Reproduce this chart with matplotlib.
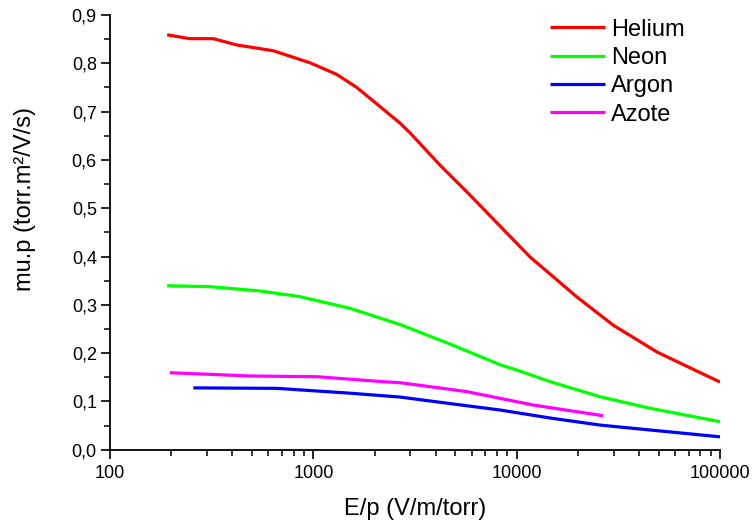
import numpy as np
import matplotlib
matplotlib.use('Agg')
import matplotlib.pyplot as plt
from matplotlib.ticker import FuncFormatter, MultipleLocator, LogLocator, NullFormatter

plt.rcParams['font.family'] = ['Liberation Sans', 'DejaVu Sans']

# values (E/p in V/m/torr, mu.p in torr.m2/V/s)
helium_x = [191, 247, 322, 420, 635, 964, 1303, 1635, 2050, 2670, 2990, 4200,
            5900, 8280, 11640, 19800, 29800, 49100, 100000]
helium_y = [0.859, 0.851, 0.851, 0.838, 0.826, 0.801, 0.777, 0.750, 0.716, 0.676,
            0.656, 0.589, 0.527, 0.463, 0.399, 0.316, 0.258, 0.202, 0.140]

neon_x = [191, 310, 547, 861, 1515, 2670, 4700, 8280, 10000, 14600, 25700, 45300, 100000]
neon_y = [0.3395, 0.3375, 0.3286, 0.3168, 0.2927, 0.2592, 0.2188, 0.176, 0.165,
          0.141, 0.1097, 0.0857, 0.058]

argon_x = [257, 662, 1515, 2670, 4700, 8280, 14600, 25700, 45300, 100000]
argon_y = [0.128, 0.127, 0.117, 0.109, 0.0955, 0.0822, 0.0656, 0.051, 0.0408, 0.0267]

azote_x = [197, 489, 1043, 2200, 2670, 4700, 5700, 12050, 26600]
azote_y = [0.1594, 0.1526, 0.1511, 0.1408, 0.1387, 0.1250, 0.1201, 0.0925, 0.0704]

W, H = 752, 525
fig = plt.figure(figsize=(W / 100, H / 100), dpi=100)
ax = fig.add_axes([110 / W, 1 - 449.7 / H, (720 - 110) / W, (449.7 - 15) / H])

lw = 2.3
style = dict(lw=lw, solid_joinstyle='round', solid_capstyle='butt')
ax.plot(helium_x, helium_y, color='#ff0000', label='Helium', **style)
ax.plot(neon_x, neon_y, color='#00ff00', label='Neon', **style)
ax.plot(argon_x, argon_y, color='#0000ff', label='Argon', **style)
ax.plot(azote_x, azote_y, color='#ff00ff', label='Azote', **style)

ax.set_xscale('log')
ax.set_xlim(100, 100000)
ax.set_ylim(0, 0.9)

ax.spines['top'].set_visible(False)
ax.spines['right'].set_visible(False)
for s in ['left', 'bottom']:
    ax.spines[s].set_linewidth(1.3)

ax.xaxis.set_major_locator(LogLocator(base=10))
ax.xaxis.set_minor_locator(LogLocator(base=10, subs=np.arange(2, 10)))
ax.xaxis.set_minor_formatter(NullFormatter())
ax.xaxis.set_major_formatter(FuncFormatter(lambda v, p: '%d' % round(v)))

ax.yaxis.set_major_locator(MultipleLocator(0.1))
ax.yaxis.set_minor_locator(MultipleLocator(0.05))
ax.yaxis.set_major_formatter(FuncFormatter(lambda v, p: ('%.1f' % v).replace('.', ',')))

ax.tick_params(which='major', direction='out', length=6.5, width=1.2, labelsize=13)
ax.tick_params(which='minor', direction='out', length=4, width=1.1)
ax.tick_params(axis='x', which='major', pad=4.2)
ax.tick_params(axis='y', which='major', pad=3)

ax.set_xlabel('E/p (V/m/torr)', fontsize=17, va='center')
ax.xaxis.set_label_coords(0.5, (449.7 - 509) / 434.7)
ax.set_ylabel('mu.p (torr.m²/V/s)', fontsize=17, va='center')
ax.yaxis.set_label_coords((25 - 110) / 610, (449.7 - 199) / 434.7)

ax.legend(loc='upper left', bbox_to_anchor=(550 / W, 1 - 18.5 / H),
          bbox_transform=fig.transFigure, frameon=False, fontsize=17,
          handlelength=2.33, handletextpad=0.25, labelspacing=0.27,
          borderpad=0, borderaxespad=0)

fig.savefig('out.png', dpi=100)
